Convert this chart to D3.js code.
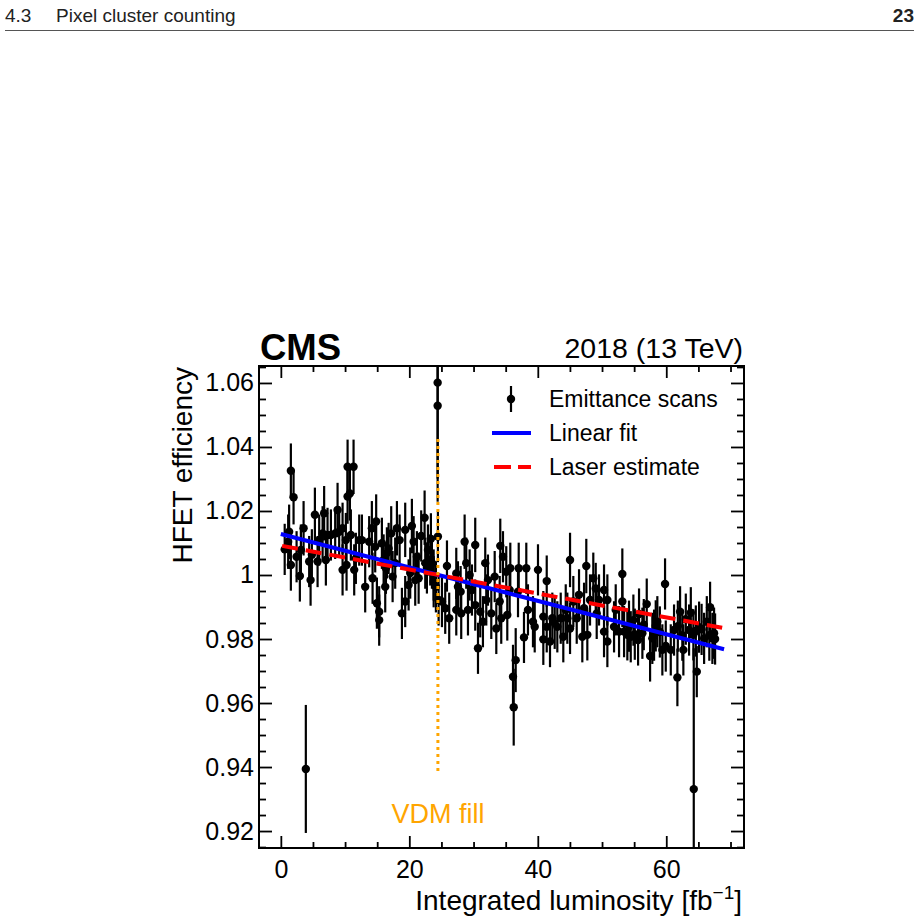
<!DOCTYPE html>
<meta charset="utf-8">
<style>
body { margin: 0; background: #fff; }
text { font-family: "Liberation Sans", Arial, Helvetica, sans-serif; }
</style>
<body>
<div class="chart"></div>
<script src="https://cdn.jsdelivr.net/npm/d3@7"></script>
<script>

// emittance scan results: integrated luminosity [fb^-1], efficiency, uncertainty
var lumi = [0.6, 1.14, 1.29, 1.56, 1.56, 1.98, 2.45, 2.96, 3.12, 3.54, 3.89, 4.41, 4.63, 4.83, 5.30, 5.72, 5.97, 6.50, 6.74, 7.01,
  7.27, 7.79, 8.46, 8.83, 9.08, 9.61, 9.61, 10.12, 10.23, 10.39, 10.39, 10.75, 10.90, 11.32, 11.42, 11.68, 12.20, 12.62, 13.13, 13.75,
  14.17, 14.28, 14.69, 14.84, 14.95, 15.31, 15.31, 15.73, 16.00, 16.25, 16.36, 16.51, 16.78, 17.18, 17.40, 17.80, 18.07, 18.49, 18.85, 19.36,
  19.36, 19.89, 20.14, 20.40, 20.67, 20.92, 21.18, 21.45, 21.85, 22.38, 22.48, 22.74, 22.90, 23.26, 23.36, 23.52, 23.79, 23.79, 24.14, 24.41,
  24.41, 24.45, 24.56, 25.08, 25.59, 25.86, 26.21, 27.31, 27.31, 27.57, 27.99, 28.08, 28.61, 28.86, 29.13, 29.39, 29.75, 30.26, 30.26, 30.69,
  31.04, 31.46, 31.82, 31.98, 32.24, 32.76, 33.29, 33.54, 34.07, 34.16, 34.31, 34.58, 35.09, 35.25, 35.62, 35.72, 36.14, 36.25, 36.56, 36.92,
  37.03, 37.85, 38.21, 38.47, 39.25, 39.52, 40.03, 40.86, 40.86, 41.39, 41.39, 41.90, 42.26, 42.63, 43.04, 43.57, 43.97, 44.35, 44.60, 45.02,
  45.02, 45.53, 46.06, 46.42, 46.93, 47.20, 47.55, 47.71, 48.13, 48.64, 49.02, 49.17, 49.53, 50.31, 50.31, 50.83, 50.83, 51.87, 52.13, 52.65,
  53.16, 53.16, 53.43, 53.94, 54.20, 54.47, 54.88, 55.10, 55.61, 55.76, 56.28, 56.50, 56.96, 57.48, 57.83, 58.10, 58.36, 58.61, 59.00, 59.39,
  59.81, 59.92, 60.70, 61.21, 61.73, 61.80, 62.15, 62.50, 62.66, 63.04, 63.55, 63.82, 64.22, 64.28, 64.60, 64.75, 65.11, 65.50, 65.89, 66.31,
  66.70, 66.82, 67.18, 67.44, 67.60];

var eff = [1.0080, 1.0104, 1.0135, 1.0326, 1.0031, 1.0243, 1.0057, 0.9997, 1.0078, 1.0146, 0.9394, 1.0042, 0.9984, 1.0063, 1.0188, 1.0042, 1.0109, 1.0130, 1.0193, 1.0047,
  1.0125, 1.0125, 1.0130, 1.0203, 1.0135, 1.0146, 1.0016, 1.0109, 1.0031, 1.0338, 1.0245, 1.0255, 1.0125, 1.0338, 1.0016, 1.0052, 1.0109, 1.0109, 0.9963, 1.0104,
  1.0146, 0.9990, 1.0088, 1.0167, 0.9912, 0.9885, 0.9859, 1.0099, 1.0047, 0.9963, 1.0021, 1.0069, 1.0083, 1.0130, 0.9995, 1.0037, 1.0146, 1.0109, 0.9880, 0.9917,
  1.0141, 0.9969, 1.0006, 1.0153, 1.0104, 0.9984, 1.0057, 0.9990, 1.0122, 1.0179, 1.0037, 1.0022, 1.0078, 1.0047, 1.0113, 1.0037, 0.9979, 1.0000, 0.9963, 1.0601,
  1.0529, 1.0120, 0.9922, 0.9917, 0.9896, 1.0028, 0.9865, 1.0005, 0.9891, 0.9963, 0.9948, 0.9880, 1.0104, 1.0037, 0.9891, 1.0000, 0.9953, 1.0094, 0.9906, 0.9771,
  0.9885, 0.9854, 1.0037, 0.9922, 0.9984, 0.9880, 0.9995, 0.9833, 0.9917, 1.0091, 0.9865, 1.0057, 1.0010, 0.9875, 0.9953, 1.0021, 0.9682, 0.9587, 0.9734, 0.9948,
  1.0021, 0.9805, 1.0021, 0.9891, 0.9854, 0.9838, 1.0016, 0.9870, 0.9799, 0.9981, 0.9838, 0.9792, 0.9865, 0.9849, 0.9838, 0.9865, 0.9807, 0.9891, 0.9865, 1.0047,
  0.9833, 0.9917, 0.9865, 0.9938, 0.9807, 0.9896, 1.0028, 0.9813, 0.9922, 0.9990, 0.9958, 0.9880, 0.9922, 0.9953, 0.9823, 0.9922, 0.9792, 0.9838, 0.9891, 0.9823,
  1.0003, 0.9917, 0.9823, 0.9813, 0.9840, 0.9807, 0.9859, 0.9815, 0.9797, 0.9878, 0.9818, 0.9845, 0.9909, 0.9747, 0.9802, 0.9812, 0.9841, 0.9854, 0.9822, 0.9766,
  0.9972, 0.9778, 0.9766, 0.9828, 0.9680, 0.9840, 0.9885, 0.9812, 0.9766, 0.9862, 0.9828, 0.9882, 0.9813, 0.9331, 0.9825, 0.9698, 0.9837, 0.9830, 0.9802, 0.9854,
  0.9812, 0.9899, 0.9802, 0.9818, 0.9800];

var effErr = [0.0080, 0.0085, 0.0085, 0.0085, 0.0080, 0.0085, 0.0080, 0.0080, 0.0080, 0.0085, 0.0200, 0.0080, 0.0080, 0.0080, 0.0085, 0.0080, 0.0080, 0.0085, 0.0085, 0.0080,
  0.0085, 0.0080, 0.0080, 0.0085, 0.0080, 0.0080, 0.0080, 0.0085, 0.0080, 0.0085, 0.0085, 0.0085, 0.0080, 0.0085, 0.0080, 0.0080, 0.0080, 0.0080, 0.0080, 0.0080,
  0.0085, 0.0080, 0.0080, 0.0085, 0.0080, 0.0080, 0.0080, 0.0080, 0.0080, 0.0080, 0.0080, 0.0080, 0.0080, 0.0085, 0.0080, 0.0080, 0.0085, 0.0080, 0.0080, 0.0080,
  0.0085, 0.0080, 0.0080, 0.0085, 0.0080, 0.0080, 0.0080, 0.0080, 0.0080, 0.0085, 0.0080, 0.0080, 0.0080, 0.0080, 0.0080, 0.0080, 0.0080, 0.0080, 0.0080, 0.0300,
  0.0300, 0.0080, 0.0080, 0.0080, 0.0080, 0.0080, 0.0080, 0.0080, 0.0080, 0.0080, 0.0080, 0.0080, 0.0085, 0.0080, 0.0080, 0.0080, 0.0080, 0.0085, 0.0080, 0.0080,
  0.0080, 0.0080, 0.0080, 0.0080, 0.0080, 0.0080, 0.0080, 0.0080, 0.0080, 0.0085, 0.0080, 0.0080, 0.0080, 0.0080, 0.0080, 0.0080, 0.0100, 0.0120, 0.0100, 0.0080,
  0.0080, 0.0080, 0.0080, 0.0080, 0.0080, 0.0080, 0.0080, 0.0080, 0.0080, 0.0080, 0.0080, 0.0080, 0.0080, 0.0080, 0.0080, 0.0080, 0.0080, 0.0080, 0.0080, 0.0085,
  0.0080, 0.0080, 0.0080, 0.0080, 0.0080, 0.0080, 0.0085, 0.0080, 0.0080, 0.0080, 0.0080, 0.0080, 0.0080, 0.0080, 0.0080, 0.0080, 0.0080, 0.0080, 0.0080, 0.0080,
  0.0080, 0.0080, 0.0080, 0.0080, 0.0080, 0.0080, 0.0080, 0.0080, 0.0080, 0.0080, 0.0080, 0.0080, 0.0080, 0.0080, 0.0080, 0.0080, 0.0080, 0.0080, 0.0080, 0.0080,
  0.0080, 0.0080, 0.0080, 0.0080, 0.0090, 0.0080, 0.0080, 0.0080, 0.0080, 0.0080, 0.0080, 0.0080, 0.0080, 0.0440, 0.0080, 0.0080, 0.0080, 0.0080, 0.0080, 0.0080,
  0.0080, 0.0080, 0.0080, 0.0080, 0.0080];

// linear fit and laser estimate (end points)
var fitLumi = [0, 69.0];
var fitEff = [1.0128, 0.9768];
var laserLumi = [0.2, 68.7];
var laserEff = [1.0091, 0.9835];

// vdM fill position and marker extent
var vdmLumi = 24.45;
var vdmRange = [0.9378, 1.0425];

var xMajor = [0, 20, 40, 60];
var yMajor = [0.92, 0.94, 0.96, 0.98, 1, 1.02, 1.04, 1.06];

var W = 920, H = 923;
var L = 259, R = 744, T = 366, B = 848;

var svg = d3.select(".chart").append("svg")
    .attr("width", W)
    .attr("height", H);

// page header
svg.append("text").attr("x", 5).attr("y", 22)
    .style("font-size", "19px").style("fill", "#222")
    .text("4.3");
svg.append("text").attr("x", 56).attr("y", 22)
    .style("font-size", "19px").style("fill", "#222")
    .text("Pixel cluster counting");
svg.append("text").attr("x", 914).attr("y", 22)
    .attr("text-anchor", "end")
    .style("font-size", "19px").style("font-weight", "bold").style("fill", "#222")
    .text("23");
svg.append("line").attr("x1", 5).attr("x2", 914).attr("y1", 30.5).attr("y2", 30.5)
    .style("stroke", "#555").style("stroke-width", 1);

var x = d3.scaleLinear().domain([-3.4, 72.1]).range([L, R]);
var y = d3.scaleLinear().domain([0.9147, 1.0653]).range([B, T]);

var xMinor = d3.range(5, 75, 5).filter(function(d) { return xMajor.indexOf(d) < 0; });
var yMinor = d3.range(0, 31).map(function(i) { return +(0.915 + i * 0.005).toFixed(3); })
    .filter(function(d) { return yMajor.indexOf(d) < 0; });

function ticks(axis, tr, vals, size, fmt, pad) {
  var g = svg.append("g").attr("transform", tr)
      .call(axis.tickValues(vals).tickSize(size).tickPadding(pad || 3).tickFormat(fmt));
  g.select(".domain").remove();
  g.selectAll("line").style("stroke", "#000").style("stroke-width", 1.8);
  return g;
}

var fmtY = function(d) { return d3.format("~g")(d); };
var none = function() { return ""; };

// bottom / top
var gx = ticks(d3.axisBottom(x), "translate(0," + B + ")", xMajor, -12, d3.format("d"), 12);
ticks(d3.axisBottom(x), "translate(0," + B + ")", xMinor, -6, none);
ticks(d3.axisTop(x), "translate(0," + T + ")", xMajor, -12, none);
ticks(d3.axisTop(x), "translate(0," + T + ")", xMinor, -6, none);
// left / right
var gy = ticks(d3.axisLeft(y), "translate(" + L + ",0)", yMajor, -13, fmtY, 5);
ticks(d3.axisLeft(y), "translate(" + L + ",0)", yMinor, -7, none);
ticks(d3.axisRight(y), "translate(" + R + ",0)", yMajor, -13, none);
ticks(d3.axisRight(y), "translate(" + R + ",0)", yMinor, -7, none);

gx.selectAll("text").style("font-size", "25px").style("fill", "#000");
gy.selectAll("text").style("font-size", "25px").style("fill", "#000");

svg.append("clipPath").attr("id", "frame")
  .append("rect").attr("x", L).attr("y", T).attr("width", R - L).attr("height", B - T);

var plot = svg.append("g").attr("clip-path", "url(#frame)");

var pts = lumi.map(function(d, i) { return { x: d, y: eff[i], e: effErr[i] }; });

plot.selectAll(".err").data(pts).enter().append("line")
    .attr("class", "err")
    .attr("x1", function(d) { return x(d.x); })
    .attr("x2", function(d) { return x(d.x); })
    .attr("y1", function(d) { return y(d.y - d.e); })
    .attr("y2", function(d) { return y(d.y + d.e); })
    .style("stroke", "#000").style("stroke-width", 2.2);

plot.selectAll(".pt").data(pts).enter().append("circle")
    .attr("class", "pt")
    .attr("cx", function(d) { return x(d.x); })
    .attr("cy", function(d) { return y(d.y); })
    .attr("r", 4.2)
    .style("fill", "#000");

var line = d3.line()
    .x(function(d) { return x(d[0]); })
    .y(function(d) { return y(d[1]); });

plot.append("path")
    .datum(fitLumi.map(function(d, i) { return [d, fitEff[i]]; }))
    .attr("d", line)
    .style("fill", "none").style("stroke", "#0000ff").style("stroke-width", 4);

plot.append("path")
    .datum(laserLumi.map(function(d, i) { return [d, laserEff[i]]; }))
    .attr("d", line)
    .style("fill", "none").style("stroke", "#ff0000").style("stroke-width", 4)
    .style("stroke-dasharray", "16,8");

plot.append("line")
    .attr("x1", x(vdmLumi)).attr("x2", x(vdmLumi))
    .attr("y1", y(vdmRange[1])).attr("y2", y(vdmRange[0]))
    .style("stroke", "#ffa500").style("stroke-width", 3)
    .style("stroke-dasharray", "3,4");

svg.append("text")
    .attr("x", x(vdmLumi)).attr("y", 823)
    .attr("text-anchor", "middle")
    .style("font-size", "27px").style("fill", "#ffa500")
    .text("VDM fill");

// frame
svg.append("rect")
    .attr("x", L).attr("y", T).attr("width", R - L).attr("height", B - T)
    .style("fill", "none").style("stroke", "#000").style("stroke-width", 2);

// legend
var leg = svg.append("g");
leg.append("line").attr("x1", 511).attr("x2", 511).attr("y1", 386).attr("y2", 412)
    .style("stroke", "#000").style("stroke-width", 2.2);
leg.append("circle").attr("cx", 511).attr("cy", 399).attr("r", 4.2).style("fill", "#000");
leg.append("line").attr("x1", 492).attr("x2", 531).attr("y1", 433).attr("y2", 433)
    .style("stroke", "#0000ff").style("stroke-width", 4);
leg.append("line").attr("x1", 494).attr("x2", 531).attr("y1", 467).attr("y2", 467)
    .style("stroke", "#ff0000").style("stroke-width", 4).style("stroke-dasharray", "17,7");
var legText = ["Emittance scans", "Linear fit", "Laser estimate"];
leg.selectAll(".lt").data(legText).enter().append("text")
    .attr("x", 549)
    .attr("y", function(d, i) { return 407 + i * 34; })
    .style("font-size", "23px")
    .text(function(d) { return d; });

// labels
svg.append("text").attr("x", 260).attr("y", 360)
    .style("font-size", "36.5px").style("font-weight", "bold")
    .text("CMS");
svg.append("text").attr("x", 743).attr("y", 358)
    .attr("text-anchor", "end")
    .style("font-size", "28.5px")
    .text("2018 (13 TeV)");

svg.append("text")
    .attr("transform", "translate(192,367) rotate(-90)")
    .attr("text-anchor", "end")
    .style("font-size", "28px")
    .text("HFET efficiency");

var xt = svg.append("text").attr("x", 742).attr("y", 910)
    .attr("text-anchor", "end")
    .style("font-size", "28px");
xt.append("tspan").text("Integrated luminosity [fb");
xt.append("tspan").attr("dy", -11).style("font-size", "19px").text("\u22121");
xt.append("tspan").attr("dy", 11).text("]");

</script>
</body>
